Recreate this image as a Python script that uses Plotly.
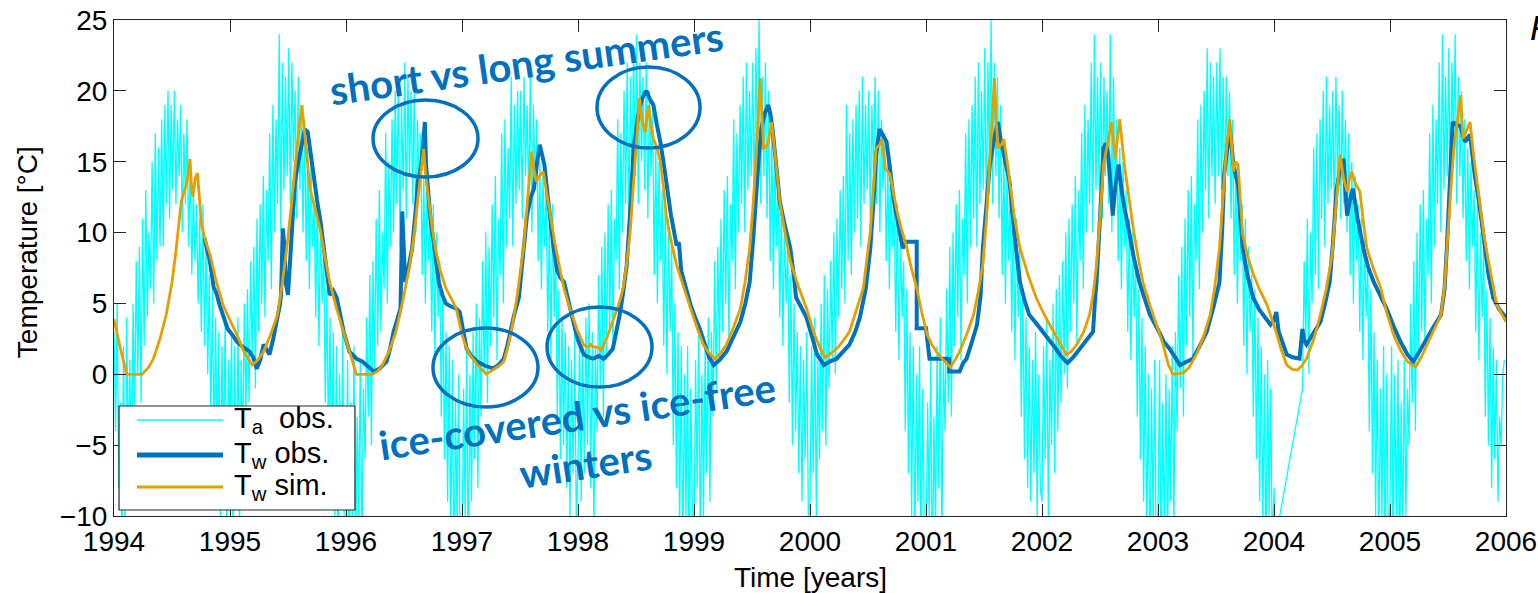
import plotly.graph_objects as go

# ---------------- data ----------------
# Daily air temperature, sampled every 5 days (73 samples per year), degC
ta_1994 = [3, -4, 5, -8, -2, -12, 2, -11, 4, -6, 1, -9, 5, -3, 8, 0, 9, -2,
           11, 2, 13, 4, 10, 6, 15, 5, 17, 8, 16, 9, 18, 9, 19, 12, 20, 11,
           19, 13, 20, 12, 18, 14, 19, 10, 17, 12, 18, 9, 15, 7, 13, 8, 12, 5,
           11, 3, 12, 2, 9, 0, 7, -3, 6, -5, 4, -7, 3, -10, 2, -6, 4, -12, 1]
ta_1995 = [-4, 3, -13, 2, -9, 4, -11, 1, -6, 5, -3, 6, -2, 8, 1, 9, -1, 11,
           3, 12, 5, 14, 4, 13, 8, 17, 6, 19, 10, 18, 12, 24, 10, 22, 13, 21,
           14, 23, 12, 22, 15, 20, 11, 21, 13, 19, 10, 18, 8, 16, 6, 15, 9, 12,
           4, 13, 2, 11, 5, 9, -2, 6, -5, 4, -8, 3, -10, 2, -14, 0, -9, 3, -12]
ta_1996 = [-11, 1, -15, -2, -12, 2, -14, -3, -10, 1, -13, -1, -6, 4, -3, 7, -5, 8,
           0, 11, 2, 13, 3, 10, 6, 17, 5, 15, 9, 18, 10, 20, 12, 21, 9, 19,
           13, 22, 11, 21, 14, 20, 12, 21, 10, 18, 13, 17, 7, 14, 5, 13, 8, 11,
           3, 12, 1, 10, 4, 8, -3, 6, -6, 3, -9, 2, -12, 1, -15, -2, -11, 0, -14]
ta_1997 = [-13, -1, -10, 2, -15, 0, -9, 3, -6, 5, -8, 4, -3, 8, 0, 10, -2, 9,
           2, 12, 4, 14, 1, 11, 7, 17, 5, 18, 9, 16, 11, 21, 9, 19, 12, 20,
           13, 20, 11, 21, 14, 19, 12, 21, 10, 19, 13, 18, 8, 15, 6, 14, 9, 13,
           3, 11, 1, 12, 4, 9, -3, 6, -6, 4, -5, 3, -8, 2, -10, 1, -7, 3, -11]
ta_1998 = [-6, 3, -9, 2, -7, 4, -5, 5, -8, 3, -11, 2, -4, 7, -1, 9, -3, 10,
           1, 12, 3, 13, 2, 11, 8, 18, 6, 17, 10, 20, 12, 22, 10, 21, 13, 23,
           14, 24, 12, 22, 15, 21, 13, 22, 11, 20, 14, 19, 7, 16, 5, 15, 8, 13,
           2, 12, 0, 11, 3, 9, -5, 5, -8, 3, -11, 2, -14, 0, -10, 2, -16, -1, -9]
ta_1999 = [-12, 1, -8, 3, -13, 0, -10, 2, -7, 4, -9, 3, -3, 8, -1, 9, 1, 11,
           3, 13, 5, 14, 2, 12, 8, 18, 6, 17, 10, 19, 12, 21, 10, 22, 13, 20,
           14, 22, 12, 23, 15, 25, 12, 21, 14, 22, 11, 20, 8, 17, 6, 15, 9, 14,
           4, 12, 2, 11, 5, 9, -2, 7, -5, 5, -4, 3, -7, 2, -9, 1, -6, 3, -10]
ta_2000 = [-9, 2, -7, 4, -10, 1, -6, 5, -4, 7, -5, 6, -1, 8, 1, 10, 0, 11,
           4, 13, 6, 14, 5, 19, 8, 17, 7, 18, 10, 19, 11, 20, 9, 21, 12, 19,
           13, 20, 11, 19, 14, 21, 12, 20, 10, 18, 13, 17, 8, 15, 6, 14, 9, 12,
           3, 12, 1, 10, 4, 8, -4, 6, -7, 3, -10, 2, -13, 0, -9, 2, -15, -1, -11]
ta_2001 = [-14, -2, -10, 1, -16, -3, -11, 2, -8, 4, -12, 1, -4, 6, -2, 9, -3, 10,
           2, 12, 4, 13, 1, 11, 7, 17, 5, 18, 9, 19, 11, 21, 9, 22, 12, 20,
           13, 23, 11, 22, 14, 25, 12, 22, 14, 21, 11, 19, 7, 16, 5, 14, 8, 13,
           3, 12, 1, 11, 4, 9, -3, 6, -6, 4, -8, 2, -9, 1, -7, 3, -10, 0, -8]
ta_2002 = [-9, 2, -6, 4, -10, 1, -5, 5, -7, 6, -4, 7, -2, 8, 0, 10, -1, 11,
           3, 12, 5, 14, 2, 13, 8, 17, 6, 19, 10, 18, 12, 22, 10, 24, 13, 21,
           13, 22, 11, 21, 14, 20, 12, 24, 10, 21, 13, 18, 8, 16, 6, 15, 9, 13,
           3, 11, 1, 10, 4, 8, -3, 6, -6, 4, -9, 2, -12, 0, -15, -1, -11, 1, -14]
ta_2003 = [-10, 1, -16, -2, -12, 0, -13, -1, -9, 2, -11, 3, -4, 7, -1, 9, -3, 11,
           2, 13, 4, 14, 1, 12, 8, 18, 6, 19, 10, 20, 13, 23, 11, 22, 14, 21,
           12, 22, 14, 23, 13, 21, 12, 21, 14, 20, 11, 18, 7, 15, 5, 14, 8, 12,
           2, 11, 0, 9, 3, 7, -3, 6, -6, 4, -9, 2, -11, 0, -14, 1, -10, -1, -13]
ta_2004 = [-8, -13, -11, None, None, None, None, None, None, None, None, None,
           None, None, None, None, None, None,
           -1, 8, 2, 11, 0, 10, 5, 16, 7, 17, 6, 18, 11, 20, 9, 21, 12, 19,
           13, 20, 11, 21, 14, 19, 11, 20, 12, 18, 10, 17, 7, 15, 5, 14, 8, 12,
           3, 11, 1, 10, 4, 8, -4, 6, -7, 3, -10, 1, -13, -1, -10, 2, -15, 0, -12]
ta_2005 = [-9, 2, -14, 0, -11, 1, -15, -2, -12, 1, -10, -1, -5, 5, -2, 8, -4, 10,
           1, 12, 3, 13, 2, 11, 7, 17, 5, 19, 9, 18, 12, 22, 10, 24, 13, 21,
           14, 23, 12, 22, 15, 24, 12, 21, 14, 20, 11, 18, 8, 16, 6, 15, 9, 13,
           3, 12, 1, 10, 4, 9, -3, 6, -5, 4, -8, 2, -6, 1, -9, -3, -5, 0, 1]

ta_years = list(range(1994, 2006))
ta_by_year = [ta_1994, ta_1995, ta_1996, ta_1997, ta_1998, ta_1999,
              ta_2000, ta_2001, ta_2002, ta_2003, ta_2004, ta_2005]
sample_days = 5

# Observed water temperature (decimal year, degC)
tw_obs_t = [1994.78, 1994.80, 1994.83, 1994.86, 1994.88, 1994.91, 1994.95, 1994.98,
            1995.02, 1995.06, 1995.10, 1995.14, 1995.17, 1995.20, 1995.23, 1995.26,
            1995.29, 1995.32, 1995.34, 1995.37, 1995.40, 1995.43, 1995.44, 1995.455,
            1995.47, 1995.48, 1995.50, 1995.53, 1995.56, 1995.59, 1995.62, 1995.645,
            1995.67, 1995.70, 1995.72, 1995.75, 1995.78, 1995.82, 1995.86, 1995.89,
            1995.92, 1995.95, 1995.98, 1996.03, 1996.09, 1996.14, 1996.18, 1996.24,
            1996.29, 1996.35, 1996.38, 1996.41, 1996.44, 1996.47, 1996.485, 1996.50,
            1996.51, 1996.54, 1996.57, 1996.60, 1996.62, 1996.65, 1996.68, 1996.69,
            1996.71, 1996.73, 1996.77, 1996.80, 1996.83, 1996.86, 1996.90, 1996.95,
            1996.98, 1997.00, 1997.04, 1997.08, 1997.13, 1997.20, 1997.27, 1997.32,
            1997.36, 1997.39, 1997.42, 1997.45, 1997.49, 1997.52, 1997.56, 1997.59,
            1997.62, 1997.645, 1997.67, 1997.69, 1997.71, 1997.74, 1997.76, 1997.79,
            1997.82, 1997.85, 1997.88, 1997.92, 1997.96, 1998.00, 1998.05, 1998.09,
            1998.13, 1998.18, 1998.22, 1998.26, 1998.30, 1998.33, 1998.36, 1998.39,
            1998.42, 1998.45, 1998.48, 1998.505, 1998.53, 1998.56, 1998.59, 1998.62,
            1998.65, 1998.68, 1998.71, 1998.74, 1998.76, 1998.80, 1998.85, 1998.87,
            1998.89, 1998.93, 1998.97, 1999.01, 1999.05, 1999.09, 1999.13, 1999.17,
            1999.22, 1999.28, 1999.34, 1999.40, 1999.44, 1999.48, 1999.51, 1999.54,
            1999.56, 1999.58, 1999.61, 1999.64, 1999.66, 1999.68, 1999.71, 1999.74,
            1999.78, 1999.83, 1999.86, 1999.88, 1999.92, 1999.97, 2000.02, 2000.06,
            2000.12, 2000.17, 2000.23, 2000.28, 2000.34, 2000.39, 2000.43, 2000.48,
            2000.52, 2000.55, 2000.57, 2000.60, 2000.63, 2000.66, 2000.69, 2000.72,
            2000.76, 2000.80, 2000.834, 2000.92, 2000.92, 2001.00, 2001.03, 2001.20,
            2001.20, 2001.29, 2001.32, 2001.35, 2001.40, 2001.44, 2001.47, 2001.49,
            2001.52, 2001.55, 2001.585, 2001.62, 2001.645, 2001.67, 2001.70, 2001.72,
            2001.76, 2001.81, 2001.85, 2001.89, 2001.95, 2002.01, 2002.06, 2002.12,
            2002.17, 2002.22, 2002.27, 2002.33, 2002.38, 2002.44, 2002.455, 2002.47,
            2002.50, 2002.53, 2002.55, 2002.57, 2002.59, 2002.61, 2002.635, 2002.66,
            2002.68, 2002.70, 2002.75, 2002.79, 2002.84, 2002.88, 2002.93, 2002.99,
            2003.05, 2003.10, 2003.15, 2003.19, 2003.25, 2003.30, 2003.36, 2003.42,
            2003.48, 2003.53, 2003.555, 2003.57, 2003.595, 2003.62, 2003.635, 2003.65,
            2003.67, 2003.69, 2003.71, 2003.73, 2003.77, 2003.82, 2003.87, 2003.92,
            2003.97, 2004.00, 2004.02, 2004.04, 2004.08, 2004.11, 2004.16, 2004.22,
            2004.245, 2004.26, 2004.28, 2004.34, 2004.40, 2004.44, 2004.48, 2004.51,
            2004.54, 2004.57, 2004.60, 2004.615, 2004.63, 2004.655, 2004.68, 2004.72,
            2004.77, 2004.81, 2004.86, 2004.92, 2004.97, 2005.03, 2005.09, 2005.15,
            2005.20, 2005.26, 2005.32, 2005.38, 2005.44, 2005.47, 2005.49, 2005.515,
            2005.54, 2005.575, 2005.61, 2005.63, 2005.65, 2005.67, 2005.69, 2005.71,
            2005.73, 2005.77, 2005.80, 2005.85, 2005.89, 2005.94, 2006.00]
tw_obs = [9.6, 8.9, 7.8, 6.1, 5.8, 4.9, 4.0, 3.2,
          2.8, 2.3, 2.0, 1.8, 1.6, 1.2, 0.4, 1.0,
          2.1, 1.7, 1.4, 2.4, 3.5, 4.9, 5.6, 10.3,
          9.0, 6.5, 5.6, 9.5, 13.6, 15.0, 16.4, 17.3,
          17.1, 15.2, 14.1, 12.3, 10.8, 8.0, 5.6, 5.9,
          5.4, 4.2, 3.0, 1.6, 1.1, 0.9, 0.65, 0.2,
          0.4, 0.9, 1.8, 3.0, 3.8, 4.65, 11.5, 8.0,
          6.5, 7.6, 8.9, 11.5, 13.6, 14.8, 17.8, 14.8,
          12.6, 10.8, 8.4, 6.5, 5.6, 5.0, 4.8, 4.65,
          4.4, 3.6, 1.8, 1.3, 0.9, 0.6, 0.4, 0.7,
          1.1, 2.0, 3.2, 4.2, 5.4, 8.0, 11.2, 12.4,
          13.1, 14.8, 16.2, 15.5, 14.8, 12.5, 10.8, 8.9,
          7.3, 6.8, 6.5, 5.0, 3.7, 2.4, 1.4, 1.2,
          1.1, 1.3, 1.1, 1.4, 1.8, 3.0, 4.2, 5.8,
          7.7, 11.5, 15.95, 17.5, 18.8, 19.6, 20.0, 19.4,
          19.0, 17.6, 16.4, 14.8, 13.6, 11.3, 9.1, 9.3,
          7.3, 6.0, 4.9, 4.0, 3.2, 2.2, 1.2, 0.65,
          1.0, 1.6, 2.6, 3.7, 4.9, 6.5, 9.5, 13.6,
          15.5, 17.3, 18.4, 19.0, 18.3, 17.1, 14.8, 12.2,
          10.6, 8.9, 7.0, 5.4, 4.8, 4.0, 2.6, 1.4,
          0.65, 0.9, 1.1, 1.6, 2.1, 3.0, 4.0, 6.0,
          8.9, 12.5, 15.5, 17.3, 16.9, 16.4, 14.5, 12.4,
          10.6, 8.9, 9.35, 9.35, 3.24, 3.24, 1.1, 1.1,
          0.2, 0.2, 0.8, 1.1, 2.4, 3.5, 5.5, 8.9,
          11.8, 14.8, 16.5, 17.8, 16.5, 15.5, 14.6, 13.6,
          10.0, 6.5, 5.2, 4.2, 3.6, 3.0, 2.4, 1.8,
          1.2, 0.8, 1.2, 1.8, 2.4, 3.0, 5.0, 6.5,
          11.0, 15.95, 16.3, 15.5, 13.5, 11.2, 13.5, 14.8,
          13.4, 12.2, 10.1, 8.3, 6.5, 5.4, 4.2, 3.3,
          2.3, 1.8, 1.2, 0.65, 0.9, 1.1, 2.0, 3.0,
          4.8, 6.5, 10.5, 14.1, 15.8, 17.3, 16.0, 14.8,
          14.0, 13.4, 11.0, 8.9, 7.0, 5.4, 4.6, 4.0,
          3.5, 3.8, 4.4, 3.0, 2.0, 1.4, 1.2, 1.1,
          3.2, 2.4, 2.1, 2.9, 3.7, 5.0, 6.5, 9.5,
          13.1, 14.5, 15.2, 13.0, 11.2, 12.3, 13.1, 11.0,
          8.9, 7.6, 6.5, 5.5, 4.65, 3.4, 2.3, 1.4,
          0.9, 1.7, 2.6, 3.4, 4.2, 6.0, 8.9, 13.5,
          17.8, 17.6, 17.5, 16.8, 16.4, 16.7, 16.9, 15.5,
          14.1, 12.0, 10.1, 7.0, 5.4, 4.6, 4.0]

# Simulated water temperature (decimal year, degC)
tw_sim_t = [1994.00, 1994.05, 1994.11, 1994.24, 1994.30, 1994.34, 1994.40, 1994.45,
            1994.50, 1994.53, 1994.58, 1994.61, 1994.63, 1994.655, 1994.67, 1994.68,
            1994.70, 1994.72, 1994.74, 1994.755, 1994.79, 1994.83, 1994.88, 1994.94,
            1995.00, 1995.06, 1995.12, 1995.19, 1995.24, 1995.29, 1995.35, 1995.41,
            1995.45, 1995.49, 1995.53, 1995.56, 1995.59, 1995.62, 1995.64, 1995.66,
            1995.69, 1995.73, 1995.78, 1995.82, 1995.86, 1995.92, 1995.98, 1996.04,
            1996.09, 1996.23, 1996.27, 1996.31, 1996.37, 1996.43, 1996.49, 1996.55,
            1996.59, 1996.62, 1996.645, 1996.66, 1996.67, 1996.685, 1996.71, 1996.74,
            1996.77, 1996.81, 1996.86, 1996.90, 1996.95, 1997.00, 1997.04, 1997.07,
            1997.14, 1997.21, 1997.27, 1997.32, 1997.36, 1997.40, 1997.44, 1997.48,
            1997.53, 1997.57, 1997.60, 1997.62, 1997.64, 1997.67, 1997.70, 1997.73,
            1997.76, 1997.80, 1997.84, 1997.88, 1997.93, 1997.99, 1998.05, 1998.09,
            1998.11, 1998.13, 1998.17, 1998.20, 1998.25, 1998.30, 1998.35, 1998.39,
            1998.42, 1998.45, 1998.48, 1998.51, 1998.53, 1998.55, 1998.58, 1998.61,
            1998.63, 1998.65, 1998.68, 1998.71, 1998.74, 1998.76, 1998.80, 1998.85,
            1998.91, 1998.97, 1999.03, 1999.08, 1999.13, 1999.18, 1999.23, 1999.28,
            1999.34, 1999.40, 1999.44, 1999.48, 1999.51, 1999.54, 1999.57, 1999.59,
            1999.60, 1999.62, 1999.64, 1999.67, 1999.70, 1999.74, 1999.78, 1999.83,
            1999.90, 1999.97, 2000.03, 2000.09, 2000.13, 2000.17, 2000.23, 2000.28,
            2000.34, 2000.40, 2000.46, 2000.52, 2000.545, 2000.57, 2000.60, 2000.62,
            2000.65, 2000.69, 2000.72, 2000.75, 2000.79, 2000.83, 2000.87, 2000.92,
            2000.96, 2001.01, 2001.05, 2001.09, 2001.15, 2001.21, 2001.25, 2001.29,
            2001.35, 2001.41, 2001.45, 2001.49, 2001.52, 2001.55, 2001.57, 2001.59,
            2001.605, 2001.62, 2001.65, 2001.67, 2001.70, 2001.72, 2001.76, 2001.81,
            2001.88, 2001.95, 2002.02, 2002.10, 2002.16, 2002.21, 2002.25, 2002.30,
            2002.36, 2002.41, 2002.44, 2002.47, 2002.50, 2002.53, 2002.57, 2002.60,
            2002.63, 2002.67, 2002.71, 2002.75, 2002.79, 2002.83, 2002.87, 2002.93,
            2002.99, 2003.04, 2003.09, 2003.13, 2003.22, 2003.27, 2003.33, 2003.39,
            2003.45, 2003.49, 2003.53, 2003.56, 2003.59, 2003.62, 2003.64, 2003.65,
            2003.67, 2003.69, 2003.71, 2003.73, 2003.77, 2003.82, 2003.88, 2003.94,
            2004.01, 2004.06, 2004.11, 2004.16, 2004.20, 2004.24, 2004.28, 2004.34,
            2004.40, 2004.45, 2004.50, 2004.535, 2004.57, 2004.60, 2004.63, 2004.65,
            2004.67, 2004.70, 2004.74, 2004.77, 2004.80, 2004.86, 2004.92, 2004.97,
            2005.03, 2005.09, 2005.15, 2005.22, 2005.27, 2005.32, 2005.38, 2005.44,
            2005.47, 2005.49, 2005.52, 2005.55, 2005.58, 2005.61, 2005.62, 2005.63,
            2005.66, 2005.69, 2005.72, 2005.77, 2005.81, 2005.86, 2005.92, 2006.00]
tw_sim = [3.9, 2.0, 0.0, 0.0, 0.5, 1.1, 2.6, 4.2,
          6.5, 8.4, 12.2, 13.0, 13.6, 15.2, 13.0, 12.5,
          13.8, 14.2, 12.0, 10.5, 9.4, 8.4, 6.6, 4.9,
          3.8, 2.8, 1.6, 0.65, 1.0, 1.6, 2.8, 4.2,
          6.4, 8.9, 12.0, 14.8, 17.0, 19.0, 17.2, 15.5,
          13.1, 11.8, 10.1, 8.2, 6.5, 4.6, 3.0, 1.4,
          0.0, 0.0, 0.2, 0.6, 1.6, 3.0, 5.2, 7.7,
          10.0, 12.4, 14.0, 15.0, 15.9, 14.2, 12.4, 10.5,
          8.9, 7.4, 6.1, 5.4, 4.65, 2.8, 1.8, 1.36,
          0.6, 0.0, 0.3, 0.6, 0.9, 2.1, 3.7, 5.8,
          8.9, 12.5, 15.7, 14.5, 13.6, 14.0, 14.3, 12.8,
          11.2, 9.3, 7.6, 6.0, 4.65, 3.2, 2.06, 1.9,
          2.1, 1.95, 1.9, 1.7, 2.6, 3.7, 4.9, 6.1,
          7.8, 10.1, 13.8, 17.1, 19.5, 18.0, 17.1, 19.0,
          17.5, 16.6, 16.0, 15.0, 13.0, 11.2, 9.5, 7.7,
          6.1, 4.65, 3.2, 2.1, 1.5, 1.1, 1.5, 2.1,
          3.3, 4.65, 6.5, 8.9, 12.0, 15.95, 20.9, 17.5,
          15.95, 16.0, 16.4, 17.8, 15.5, 12.2, 10.2, 8.0,
          6.2, 4.65, 3.0, 1.8, 1.2, 1.4, 1.8, 2.3,
          3.0, 4.5, 6.1, 10.1, 13.0, 15.95, 16.2, 16.6,
          14.5, 14.1, 12.8, 11.5, 10.2, 9.1, 7.6, 6.1,
          4.5, 2.8, 2.1, 1.6, 1.0, 0.5, 1.0, 1.6,
          2.8, 4.2, 5.8, 7.7, 10.8, 14.8, 18.0, 20.9,
          18.0, 15.95, 16.2, 16.6, 15.0, 13.6, 11.2, 8.9,
          7.0, 5.4, 4.2, 3.0, 2.1, 1.4, 1.6, 2.1,
          3.0, 4.2, 5.6, 7.7, 11.0, 14.8, 16.5, 17.8,
          15.2, 18.0, 14.8, 12.3, 10.1, 8.2, 6.5, 4.9,
          3.5, 2.2, 0.65, 0.0, 0.1, 0.5, 1.4, 2.6,
          4.2, 6.2, 8.9, 12.5, 15.95, 18.0, 15.5, 14.3,
          15.0, 14.8, 12.3, 9.9, 8.4, 7.1, 5.9, 4.9,
          3.2, 1.8, 0.65, 0.35, 0.3, 0.6, 1.1, 2.4,
          4.2, 6.0, 8.4, 12.0, 15.5, 13.8, 12.9, 13.8,
          14.3, 13.5, 12.9, 10.8, 8.9, 7.4, 6.1, 4.4,
          2.8, 1.7, 0.9, 0.5, 1.2, 2.1, 3.1, 4.2,
          6.2, 8.9, 12.5, 15.95, 17.8, 19.7, 18.0, 16.6,
          17.2, 17.8, 15.5, 12.2, 9.8, 7.5, 4.9, 3.7]

x_ticks = list(range(1994, 2007))
y_ticks = list(range(-10, 26, 5))

# ---------------- styling ----------------
C_AIR = "#00FFFF"
C_OBS = "#0072BD"
C_SIM = "#E69F00"
C_NOTE = "#0070C0"
AX = "#262626"
FONT = "Liberation Sans, Arial, Helvetica, sans-serif"
NOTE_FONT = "Lato, Calibri, sans-serif"

# ---------------- build air temperature series ----------------
ta_t, ta = [], []
for yr, vals in zip(ta_years, ta_by_year):
    for i, v in enumerate(vals):
        ta_t.append(yr + i * sample_days / 365.25)
        ta.append(v)

fig = go.Figure()
fig.add_trace(go.Scatter(x=ta_t, y=ta, mode="lines", connectgaps=True,
                         line=dict(color=C_AIR, width=1.3), showlegend=False,
                         name="T_a obs."))
fig.add_trace(go.Scatter(x=tw_obs_t, y=tw_obs, mode="lines",
                         line=dict(color=C_OBS, width=4), showlegend=False,
                         name="T_w obs."))
fig.add_trace(go.Scatter(x=tw_sim_t, y=tw_sim, mode="lines",
                         line=dict(color=C_SIM, width=2.8), showlegend=False,
                         name="T_w sim."))

axis_common = dict(showline=True, linecolor=AX, linewidth=1.2, mirror="ticks",
                   ticks="inside", ticklen=12, tickwidth=1.2, tickcolor=AX,
                   showgrid=False, zeroline=False, automargin=False,
                   tickfont=dict(family=FONT, size=28, color="black"))

fig.update_xaxes(range=[1994, 2006], tickvals=x_ticks,
                 ticktext=[str(v) for v in x_ticks], **axis_common)
fig.update_yaxes(range=[-10, 25], tickvals=y_ticks, **axis_common)

# ---------------- legend (boxed, drawn in paper coordinates) ----------------
shapes = [dict(type="rect", xref="paper", yref="paper", x0=0.0036, x1=0.1731,
               y0=0.0121, y1=0.2218, line=dict(color=AX, width=1.2),
               fillcolor="white", layer="above")]
legend_rows = [(C_AIR, 1.6, 0.1935, "T<sub>a</sub>  obs."),
               (C_OBS, 5, 0.1230, "T<sub>w</sub> obs."),
               (C_SIM, 3.2, 0.0585, "T<sub>w</sub> sim.")]
annotations = []
for color, w, yy, label in legend_rows:
    shapes.append(dict(type="line", xref="paper", yref="paper", x0=0.0165,
                       x1=0.0783, y0=yy, y1=yy, line=dict(color=color, width=w),
                       layer="above"))
    annotations.append(dict(xref="paper", yref="paper", x=0.0848, y=yy,
                            xanchor="left", yanchor="middle", showarrow=False,
                            text=label, font=dict(family=FONT, size=29, color="black")))

# ---------------- highlighted periods ----------------
ellipses = [(1996.233, 1997.138, 13.92, 19.35),
            (1998.164, 1999.052, 15.97, 21.68),
            (1996.750, 1997.655, -2.31, 3.27),
            (1997.733, 1998.638, -0.90, 4.75)]
for x0, x1, y0, y1 in ellipses:
    shapes.append(dict(type="circle", xref="x", yref="y", x0=x0, x1=x1,
                       y0=y0, y1=y1, line=dict(color=C_NOTE, width=3.5),
                       layer="above"))

note_font = dict(family=NOTE_FONT, size=40, color=C_NOTE, weight="bold")
centered = dict(xref="paper", yref="paper", xanchor="center", yanchor="middle",
                showarrow=False)
annotations += [
    dict(x=0.296, y=0.913, text="short vs long summers", textangle=-8,
         font=note_font, **centered),
    dict(x=0.3326, y=0.2016, text="ice-covered vs ice-free", textangle=-8.5,
         font=note_font, **centered),
    dict(x=0.339, y=0.1048, text="winters", textangle=-8.5,
         font=note_font, **centered),
    # axis titles
    dict(x=0.5, y=-0.123, text="Time [years]",
         font=dict(family=FONT, size=28, color="black"), **centered),
    dict(x=-0.0625, y=0.532, text="Temperature [°C]", textangle=-90,
         font=dict(family=FONT, size=28, color="black"), **centered),
]
# panel letter at the right edge
annotations.append(dict(xref="paper", yref="paper", x=1.0155, y=0.984,
                        xanchor="left", yanchor="middle", showarrow=False,
                        text="<i>F</i>", font=dict(family=FONT, size=35, color="black")))

fig.update_layout(width=1538, height=593, autosize=False,
                  margin=dict(l=114, r=32, t=20, b=77),
                  paper_bgcolor="white", plot_bgcolor="white",
                  shapes=shapes, annotations=annotations, showlegend=False)

fig.write_html("out.html")
